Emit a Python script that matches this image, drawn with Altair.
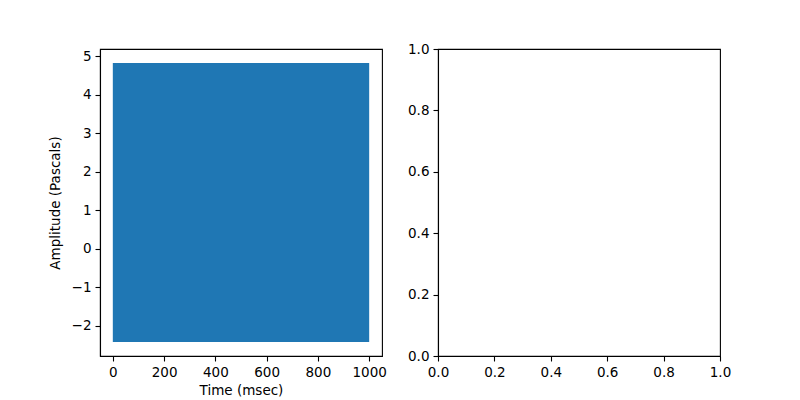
import altair as alt
import pandas as pd

# Envelope of the dense waveform (msec, Pascals)
time_ms = [0, 1000]
amp_upper = [4.82, 4.82]
amp_lower = [-2.42, -2.42]

left_y_ticks = [-2, -1, 0, 1, 2, 3, 4, 5]
left_x_ticks = [0, 200, 400, 600, 800, 1000]
right_ticks = [0.0, 0.2, 0.4, 0.6, 0.8, 1.0]

df = pd.DataFrame({"t": time_ms, "hi": amp_upper, "lo": amp_lower})

FONT = "DejaVu Sans"
W, H = 282, 307

axis_common = dict(
    grid=False, domainColor="black", domainWidth=1.1, tickColor="black",
    tickWidth=1.1, tickSize=5, labelFont=FONT, labelFontSize=13.5,
    labelColor="black", labelPadding=4, titleFont=FONT, titleFontSize=13.5,
    titleFontWeight="normal", titleColor="black", labelFlush=False,
    labelExpr="replace(datum.label, '-', '\u2212')",
)

left = alt.Chart(df).mark_area(color="#1f77b4", opacity=1).encode(
    x=alt.X("t:Q", scale=alt.Scale(domain=[-50, 1050], nice=False, zero=False),
            axis=alt.Axis(values=left_x_ticks, format="d", title="Time (msec)", titlePadding=5, **axis_common)),
    y=alt.Y("hi:Q", scale=alt.Scale(domain=[-2.782, 5.182], nice=False, zero=False),
            axis=alt.Axis(values=left_y_ticks, title="Amplitude (Pascals)", titlePadding=9, **axis_common)),
    y2="lo:Q",
).properties(width=W, height=H)

right = alt.Chart(pd.DataFrame({"x": [0.5], "y": [0.5]})).mark_point(opacity=0).encode(
    x=alt.X("x:Q", scale=alt.Scale(domain=[0, 1], nice=False),
            axis=alt.Axis(values=right_ticks, format=".1f", title=None, **axis_common)),
    y=alt.Y("y:Q", scale=alt.Scale(domain=[0, 1], nice=False),
            axis=alt.Axis(values=right_ticks, format=".1f", title=None, **axis_common)),
).properties(width=W, height=H)

chart = alt.hconcat(left, right, spacing=19).properties(
    padding={"left": 39, "top": 33, "right": 10, "bottom": 5},
    background="white",
).configure_view(stroke="black", strokeWidth=1.1)

chart.save("out.html", embed_options={"renderer": "svg", "actions": False})
